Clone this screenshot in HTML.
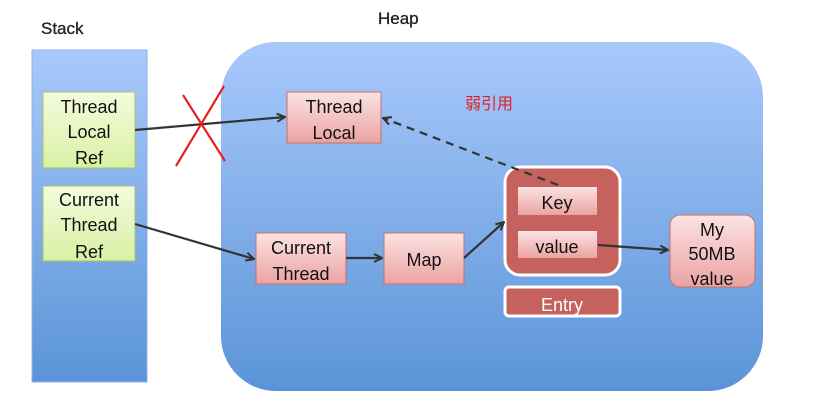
<!DOCTYPE html>
<html><head><meta charset="utf-8"><style>
body{margin:0;width:819px;height:418px;background:#fff;overflow:hidden;font-family:"Liberation Sans","Noto Sans CJK SC",sans-serif}
</style></head><body>
<svg width="819" height="418" xmlns="http://www.w3.org/2000/svg" style="position:absolute;left:0;top:0">
<defs>
<linearGradient id="blue" x1="0" y1="0" x2="0" y2="1"><stop offset="0" stop-color="#a9c9fb"/><stop offset="1" stop-color="#5a94d8"/></linearGradient>
<linearGradient id="green" x1="0" y1="0" x2="0" y2="1"><stop offset="0" stop-color="#f4fbdf"/><stop offset="1" stop-color="#d9f0a3"/></linearGradient>
<linearGradient id="pink" x1="0" y1="0" x2="0" y2="1"><stop offset="0" stop-color="#fbe3e3"/><stop offset="1" stop-color="#eaa3a1"/></linearGradient>
<marker id="ar" markerWidth="10" markerHeight="10" refX="9" refY="5" orient="auto" markerUnits="userSpaceOnUse"><path d="M1,1 L9,5 L1,9" fill="none" stroke="#333" stroke-width="2"/></marker>
</defs>
<rect x="32" y="50" width="115" height="332" fill="url(#blue)" stroke="#8fb2e0"/>
<rect x="221" y="42" width="542" height="349" rx="55" fill="url(#blue)"/>
<text x="41" y="34" font-size="17" fill="#222" stroke="#222" stroke-width="0.3">Stack</text>
<text x="378" y="24" font-size="17" fill="#222" stroke="#222" stroke-width="0.3">Heap</text>
<g font-size="18" fill="#111" text-anchor="middle">
<rect x="43" y="92" width="92" height="76" fill="url(#green)" stroke="#a8c46a"/>
<text x="89" y="113">Thread</text><text x="89" y="138">Local</text><text x="89" y="164">Ref</text>
<rect x="43" y="186" width="92" height="75" fill="url(#green)" stroke="#a8c46a"/>
<text x="89" y="206">Current</text><text x="89" y="231">Thread</text><text x="89" y="258">Ref</text>
<rect x="287" y="92" width="94" height="51" fill="url(#pink)" stroke="#c8706c"/>
<text x="334" y="113">Thread</text><text x="334" y="139">Local</text>
<rect x="256" y="233" width="90" height="51" fill="url(#pink)" stroke="#c8706c"/>
<text x="301" y="254">Current</text><text x="301" y="280">Thread</text>
<rect x="384" y="233" width="80" height="51" fill="url(#pink)" stroke="#c8706c"/>
<text x="424" y="266">Map</text>
<rect x="505" y="167" width="115" height="108" rx="15" fill="#c5625d" stroke="#fff" stroke-width="3"/>
<rect x="518" y="187" width="79" height="28" fill="url(#pink)"/>
<text x="557" y="209">Key</text>
<rect x="518" y="231" width="79" height="27" fill="url(#pink)"/>
<text x="557" y="253">value</text>
<rect x="505" y="287" width="115" height="29" rx="4" fill="#c5625d" stroke="#fff" stroke-width="3"/>
<text x="562" y="311" fill="#fff">Entry</text>
<rect x="670" y="215" width="85" height="72" rx="10" fill="url(#pink)" stroke="#c8706c"/>
<text x="712" y="236">My</text><text x="712" y="260">50MB</text><text x="712" y="285">value</text>
</g>
<text x="465" y="109" font-size="16" fill="#e02020">弱引用</text>
<g stroke="#333" stroke-width="2.2" fill="none" marker-end="url(#ar)">
<line x1="135" y1="130" x2="285" y2="117"/>
<line x1="135" y1="224" x2="254" y2="259"/>
<line x1="346" y1="258" x2="382" y2="258"/>
<line x1="464" y1="258" x2="504" y2="222"/>
<line x1="598" y1="245" x2="668" y2="250"/>
<line x1="558" y1="185" x2="383" y2="118" stroke-dasharray="8,6"/>
</g>
<g stroke="#e82020" stroke-width="2.2">
<line x1="183" y1="95" x2="225" y2="161"/>
<line x1="224" y1="86" x2="176" y2="166"/>
</g>
</svg>
</body></html>
